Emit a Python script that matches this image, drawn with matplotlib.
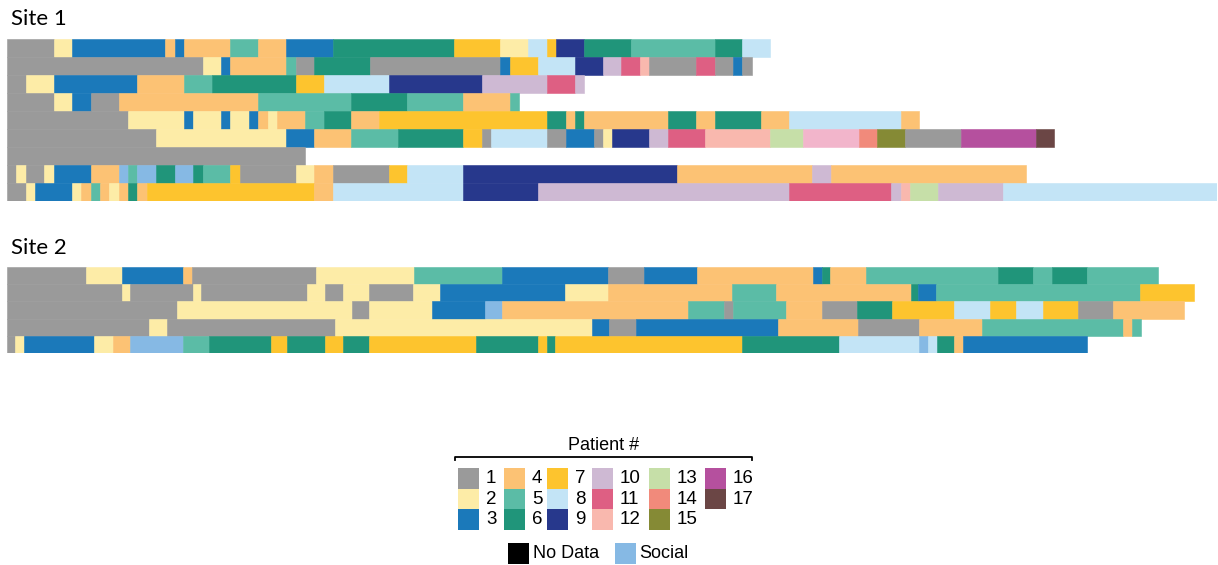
import matplotlib.pyplot as plt
from matplotlib.patches import Rectangle

# colour for each patient, plus social contacts and one unlabelled pink
colors = {
    1: '#9a9a9a', 2: '#fdeca7', 3: '#1b79ba', 4: '#fcc274', 5: '#5bbca6',
    6: '#20957a', 7: '#fdc42e', 8: '#c3e4f6', 9: '#27388c', 10: '#ceb9d3',
    11: '#de5f83', 12: '#f9b8ae', 13: '#c6dfa8', 14: '#f18a7b', 15: '#858a35',
    16: '#b5509e', 17: '#6b4645', 'S': '#86b9e4', 'P': '#f2b5cb',
}

# each row: (patient, duration) in time order
site1_rows = [
    [(1, 5), (2, 2), (3, 10), (4, 1), (3, 1), (4, 5), (5, 3), (4, 3), (3, 5), (6, 13),
     (7, 5), (2, 3), (8, 2), (7, 1), (9, 3), (6, 5), (5, 9), (6, 3), (8, 3)],
    [(1, 21), (2, 2), (3, 1), (4, 6), (5, 1), (1, 2), (6, 6), (1, 14), (3, 1), (7, 3),
     (8, 4), (9, 3), (10, 2), (11, 2), (12, 1), (1, 5), (11, 2), (1, 2), (3, 1), (1, 1)],
    [(1, 2), (2, 3), (3, 9), (4, 5), (5, 3), (6, 9), (7, 3), (8, 7), (9, 10), (10, 7),
     (11, 3), (10, 1)],
    [(1, 5), (2, 2), (3, 2), (1, 3), (4, 15), (5, 10), (6, 6), (5, 6), (4, 5), (5, 1)],
    [(1, 13), (2, 6), (3, 1), (2, 3), (3, 1), (2, 2), (3, 1), (4, 1), (2, 1), (4, 3),
     (5, 2), (6, 3), (4, 3), (7, 18), (6, 2), (4, 1), (6, 1), (4, 9), (6, 3), (4, 2),
     (6, 5), (4, 3), (8, 12), (4, 2)],
    [(1, 16), (2, 14), (3, 3), (4, 4), (5, 5), (6, 7), (7, 2), (1, 1), (8, 6), (1, 2),
     (3, 3), (1, 1), (2, 1), (9, 4), (10, 2), (11, 4), (12, 7), (13, 3.5), ('P', 6),
     (14, 2), (15, 3), (1, 6), (16, 8), (17, 2)],
    [(1, 32)],
    [(1, 1), (2, 1), (1, 2), (2, 1), (3, 4), (4, 3), ('S', 1), (5, 1), ('S', 2), (6, 2),
     ('S', 2), (6, 1), (5, 3), (7, 1), (1, 6), (2, 2), (4, 2), (1, 6), (7, 2), (8, 6),
     (9, 23), (4, 14.5), (10, 2), (4, 21)],
    [(1, 2), (2, 1), (3, 4), (2, 1), (4, 1), (5, 1), (4, 1), (2, 1), (4, 1), (6, 1),
     (4, 1), (7, 18), (4, 2), (8, 14), (9, 8), (10, 27), (11, 11), (10, 1), (12, 1),
     (13, 3), (10, 7), (8, 23)],
]

site2_rows = [
    [(1, 8.5), (2, 3.9), (3, 6.5), (4, 1.0), (1, 13.3), (2, 10.5), (5, 9.5), (3, 11.4),
     (1, 3.8), (3, 5.7), (4, 12.5), (3, 0.9), (6, 0.9), (4, 3.9), (5, 14.1), (6, 3.8),
     (5, 2.0), (6, 3.8), (5, 7.6)],
    [(1, 12.4), (2, 0.8), (1, 6.8), (2, 0.8), (1, 11.4), (2, 2.0), (1, 1.9), (2, 2.8),
     (1, 4.7), (2, 2.9), (3, 13.4), (2, 4.7), (4, 13.3), (5, 4.7), (4, 14.5), (6, 0.8),
     (3, 1.9), (5, 21.9), (7, 5.8)],
    [(1, 18.3), (2, 18.8), (1, 1.8), (2, 6.7), (3, 5.7), ('S', 1.9), (4, 19.9), (5, 3.9),
     (1, 1.0), (5, 5.7), (4, 3.8), (1, 3.8), (6, 3.8), (7, 6.6), (8, 3.9), (7, 2.8),
     (8, 2.9), (7, 3.7), (1, 3.8), (4, 7.6)],
    [(1, 15.3), (2, 1.9), (1, 18.0), (2, 27.6), (3, 1.9), (1, 2.9), (3, 15.2), (4, 8.6),
     (1, 6.6), (4, 6.7), (5, 15.2), (4, 0.9), (5, 1.0)],
    [(1, 0.9), (2, 0.9), (3, 7.5), (2, 2.1), (4, 1.8), ('S', 5.7), (5, 2.8), (6, 6.7),
     (7, 1.7), (6, 4.1), (7, 1.9), (6, 2.8), (7, 11.5), (6, 6.6), (7, 1.0), (6, 0.9),
     (7, 20.0), (6, 10.5), (8, 8.6), ('S', 0.9), (8, 1.0), (6, 1.8), (4, 1.0), (3, 13.3)],
]

legend_columns = [[1, 2, 3], [4, 5, 6], [7, 8, 9], [10, 11, 12], [13, 14, 15], [16, 17]]
site_titles = ['Site 1', 'Site 2']

W, H = 1218, 565
fig = plt.figure(figsize=(W / 100, H / 100), dpi=100)


def draw_site(rows, top_px, bottom_px):
    ax = fig.add_axes([7 / W, 1 - bottom_px / H, 1210.3 / W, (bottom_px - top_px) / H])
    for i, row in enumerate(rows):
        left = 0
        for patient, length in row:
            c = colors[patient]
            ax.barh(i, length, left=left, height=1.0, color=c, edgecolor=c, linewidth=0.4)
            left += length
    ax.set_xlim(0, 130)
    ax.set_ylim(len(rows) - 0.5, -0.5)
    ax.axis('off')
    return ax


draw_site(site1_rows, 39, 201)
draw_site(site2_rows, 267, 353)

# overlay axes in pixel units for titles and the legend
lg = fig.add_axes([0, 0, 1, 1])
lg.set_xlim(0, W)
lg.set_ylim(H, 0)
lg.axis('off')

lg.text(11, 19, site_titles[0], fontsize=16, family='Lato', va='center', ha='left')
lg.text(11, 248, site_titles[1], fontsize=16, family='Lato', va='center', ha='left')

lg.text(604, 446, 'Patient #', fontsize=13, family='Liberation Sans', ha='center', va='center')
lg.plot([455, 455, 752, 752], [460, 456.5, 456.5, 460], color='black', lw=1.3)

col_x = [458, 504, 547, 592, 649, 705]
for cx, col in zip(col_x, legend_columns):
    for j, p in enumerate(col):
        y0 = 468 + j * 20.7
        lg.add_patch(Rectangle((cx, y0), 21, 20.7, facecolor=colors[p], edgecolor='none'))
        lg.text(cx + 28, y0 + 10.5, str(p), fontsize=13.5, family='Liberation Sans',
                ha='left', va='center')

lg.add_patch(Rectangle((508, 543), 21, 21, facecolor='black', edgecolor='none'))
lg.text(533, 553, 'No Data', fontsize=13, family='Liberation Sans', ha='left', va='center')
lg.add_patch(Rectangle((615, 543), 21, 21, facecolor=colors['S'], edgecolor='none'))
lg.text(639, 553, 'Social', fontsize=13, family='Liberation Sans', ha='left', va='center')

plt.savefig('out.png', dpi=100)
